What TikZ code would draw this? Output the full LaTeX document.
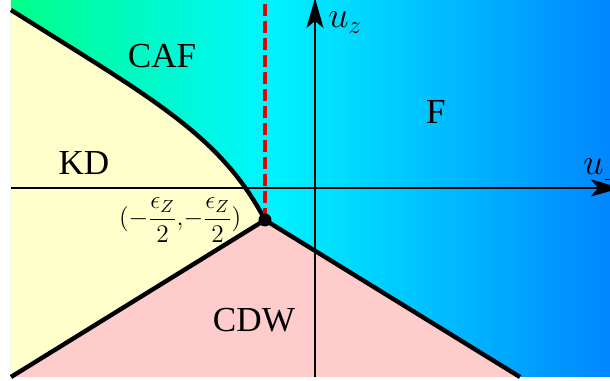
\documentclass[tikz,border=0pt]{standalone}
\usepackage{amsmath,amssymb}
\usepackage{fontspec}
\setmainfont{Liberation Serif}
\usepackage{tikz}
\usetikzlibrary{arrows.meta,calc,positioning}
\definecolor{kdyellow}{RGB}{255,255,204}
\definecolor{cdwpink}{RGB}{255,204,204}
\definecolor{cafgreen}{RGB}{0,255,136}
\definecolor{fcyan}{RGB}{0,245,255}
\definecolor{fblue}{RGB}{0,134,255}
\definecolor{critred}{RGB}{230,0,0}

\begin{document}
\begin{tikzpicture}[
        phaseline/.style={line width=2.5pt},
        critline/.style={critred, line width=2pt, dash pattern=on 0.24cm off 0.1cm},
        axisline/.style={line width=0.6pt, -{Stealth[length=0.6cm,width=0.34cm,inset=0.14cm]}},
        phaselabel/.style={font=\fontsize{20}{24}\selectfont},
        axislabel/.style={font=\fontsize{22}{26}\selectfont, inner sep=0pt, anchor=base west},
    ]
        \useasboundingbox (-6.3,-3.86) rectangle (5.9,3.76);

        \coordinate (xBL) at (-6.08,-3.78);
        \coordinate (xTR) at (5.9,3.76);
        \coordinate (xK) at (-6.08,3.56);
        \coordinate (xT) at (-1.0,-0.64);
        \coordinate (xTop) at (-1.0,3.76);
        \coordinate (xC) at (4.1,-3.78);
        \coordinate (ax0) at (-6.08,0);
        \coordinate (ax1) at (6.12,0);
        \coordinate (ay0) at (0,-3.78);
        \coordinate (ay1) at (0,3.8);

        % colours of the phases
        \shade[left color=cafgreen, right color=fcyan] (xBL) rectangle (xTop);
        \shade[left color=fcyan, right color=fblue] (-1.0,-3.78) rectangle (xTR);
        \fill[kdyellow] (xK) .. controls (-3.28,1.80) and (-1.9,1.07) .. (xT) -- (xBL) -- cycle;
        \fill[cdwpink] (xT) -- (xC) -- (xBL) -- cycle;

        \draw[axisline] (ax0) -- (ax1);
        \draw[axisline] (ay0) -- (ay1);

        \draw[phaseline] (xK) .. controls (-3.28,1.80) and (-1.9,1.07) .. (xT);
        \draw[phaseline] (xBL) -- (xT) -- (xC);
        \draw[critline] (xT) -- (xTop);

        \node[circle, fill=black, inner sep=0pt, minimum size=0.26cm] (nodexT) at (xT) {};
        \node[left=0.33cm of nodexT, inner sep=0pt, font=\fontsize{14}{17}\selectfont] (labxT) {$({-}\dfrac{\epsilon_Z}{2}{,}{-}\dfrac{\epsilon_Z}{2})$};

        \node[phaselabel] (labCAF) at (-3.06,2.63) {CAF};
        \node[phaselabel] (labF) at (2.42,1.52) {F};
        \node[phaselabel] (labKD) at (-4.62,0.5) {KD};
        \node[phaselabel] (labCDW) at (-1.22,-2.64) {CDW};
        \node[axislabel] (labuz) at (0.26,3.2) {$u_z$};
        \node[axislabel] (labup) at (5.36,0.26) {$u_\perp$};
    \end{tikzpicture}
\end{document}
